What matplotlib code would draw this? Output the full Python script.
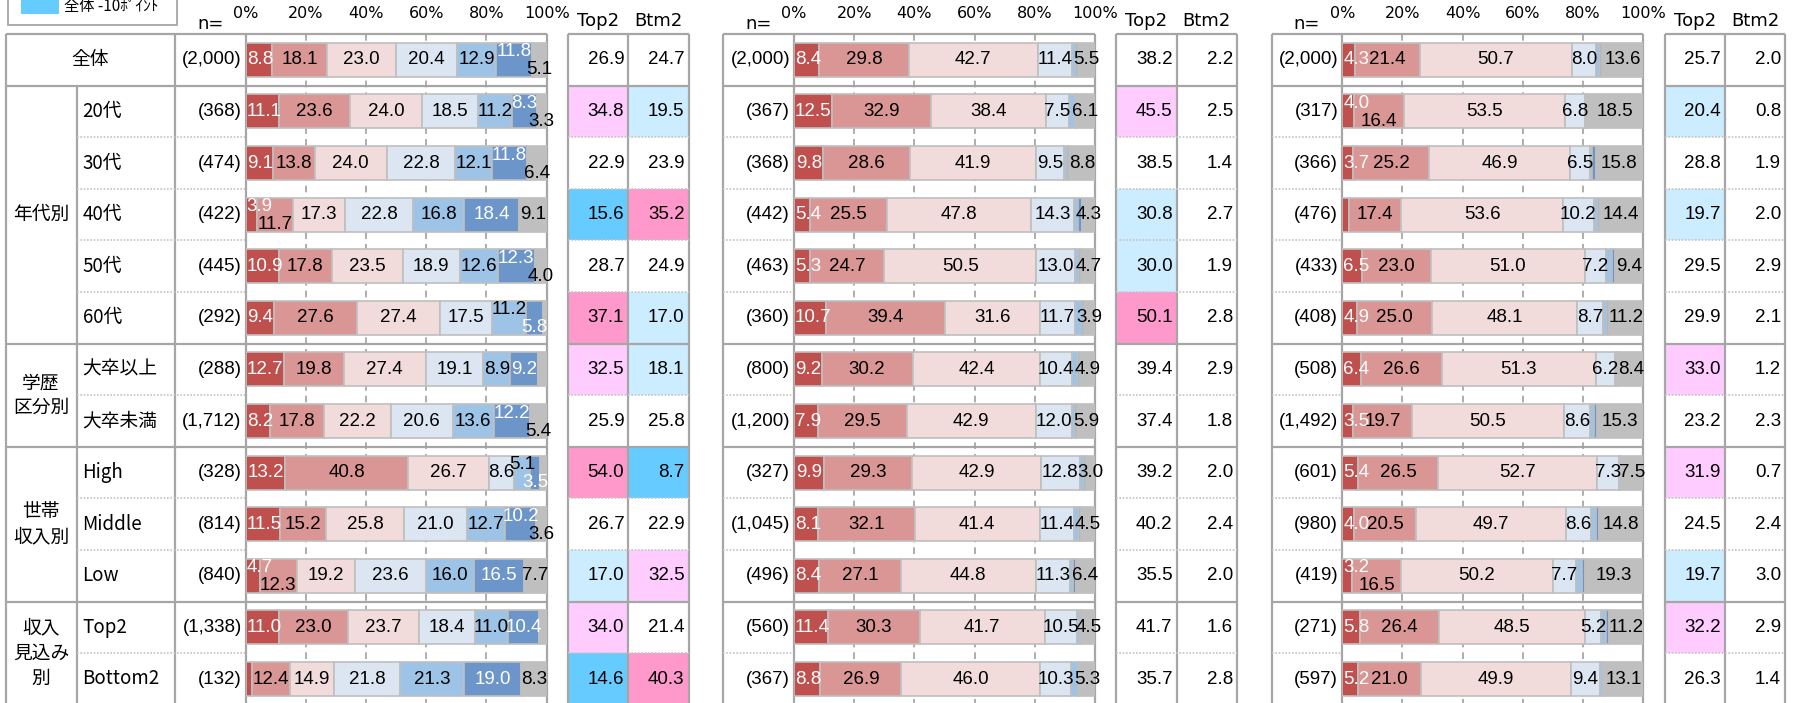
import matplotlib
matplotlib.use("Agg")
import matplotlib.pyplot as plt
from matplotlib.patches import Rectangle
import numpy as np

plt.rcParams['font.family'] = ['Liberation Sans', 'Noto Sans CJK JP', 'DejaVu Sans']

# ---------------- data ----------------
group_names = ["全体", "年代別", "学歴\n区分別", "世帯\n収入別", "収入\n見込み\n別"]
group_sizes = [1, 5, 2, 3, 2]
row_labels = ["全体", "20代", "30代", "40代", "50代", "60代", "大卒以上", "大卒未満",
              "High", "Middle", "Low", "Top2", "Bottom2"]
pct_ticks = [0, 20, 40, 60, 80, 100]
pct_labels = ["0%", "20%", "40%", "60%", "80%", "100%"]
legend_label = "全体 -10ﾎﾟｲﾝﾄ"

# panel 1
n_1 = ["(2,000)", "(368)", "(474)", "(422)", "(445)", "(292)", "(288)", "(1,712)",
       "(328)", "(814)", "(840)", "(1,338)", "(132)"]
vals_1 = [
    [8.8, 18.1, 23.0, 20.4, 12.9, 11.8, 5.1],
    [11.1, 23.6, 24.0, 18.5, 11.2, 8.3, 3.3],
    [9.1, 13.8, 24.0, 22.8, 12.1, 11.8, 6.4],
    [3.9, 11.7, 17.3, 22.8, 16.8, 18.4, 9.1],
    [10.9, 17.8, 23.5, 18.9, 12.6, 12.3, 4.0],
    [9.4, 27.6, 27.4, 17.5, 11.2, 5.8, 1.1],
    [12.7, 19.8, 27.4, 19.1, 8.9, 9.2, 2.9],
    [8.2, 17.8, 22.2, 20.6, 13.6, 12.2, 5.4],
    [13.2, 40.8, 26.7, 8.6, 5.1, 3.5, 2.1],
    [11.5, 15.2, 25.8, 21.0, 12.7, 10.2, 3.6],
    [4.7, 12.3, 19.2, 23.6, 16.0, 16.5, 7.7],
    [11.0, 23.0, 23.7, 18.4, 11.0, 10.4, 2.5],
    [2.2, 12.4, 14.9, 21.8, 21.3, 19.0, 8.3],
]
top2_1 = [26.9, 34.8, 22.9, 15.6, 28.7, 37.1, 32.5, 25.9, 54.0, 26.7, 17.0, 34.0, 14.6]
btm2_1 = [24.7, 19.5, 23.9, 35.2, 24.9, 17.0, 18.1, 25.8, 8.7, 22.9, 32.5, 21.4, 40.3]

# panel 2
n_2 = ["(2,000)", "(367)", "(368)", "(442)", "(463)", "(360)", "(800)", "(1,200)",
       "(327)", "(1,045)", "(496)", "(560)", "(367)"]
vals_2 = [
    [8.4, 29.8, 42.7, 11.4, 1.4, 0.8, 5.5],
    [12.5, 32.9, 38.4, 7.5, 2.0, 0.5, 6.1],
    [9.8, 28.6, 41.9, 9.5, 1.0, 0.4, 8.8],
    [5.4, 25.5, 47.8, 14.3, 1.5, 1.2, 4.3],
    [5.3, 24.7, 50.5, 13.0, 1.3, 0.6, 4.7],
    [10.7, 39.4, 31.6, 11.7, 2.2, 0.6, 3.9],
    [9.2, 30.2, 42.4, 10.4, 2.0, 0.9, 4.9],
    [7.9, 29.5, 42.9, 12.0, 1.2, 0.6, 5.9],
    [9.9, 29.3, 42.9, 12.8, 1.5, 0.5, 3.0],
    [8.1, 32.1, 41.4, 11.4, 1.8, 0.6, 4.5],
    [8.4, 27.1, 44.8, 11.3, 1.2, 0.8, 6.4],
    [11.4, 30.3, 41.7, 10.5, 1.0, 0.6, 4.5],
    [8.8, 26.9, 46.0, 10.3, 2.2, 0.6, 5.3],
]
top2_2 = [38.2, 45.5, 38.5, 30.8, 30.0, 50.1, 39.4, 37.4, 39.2, 40.2, 35.5, 41.7, 35.7]
btm2_2 = [2.2, 2.5, 1.4, 2.7, 1.9, 2.8, 2.9, 1.8, 2.0, 2.4, 2.0, 1.6, 2.8]

# panel 3
n_3 = ["(2,000)", "(317)", "(366)", "(476)", "(433)", "(408)", "(508)", "(1,492)",
       "(601)", "(980)", "(419)", "(271)", "(597)"]
vals_3 = [
    [4.3, 21.4, 50.7, 8.0, 1.4, 0.6, 13.6],
    [4.0, 16.4, 53.5, 6.8, 0.6, 0.2, 18.5],
    [3.7, 25.2, 46.9, 6.5, 0.8, 1.1, 15.8],
    [2.3, 17.4, 53.6, 10.2, 1.5, 0.5, 14.4],
    [6.5, 23.0, 51.0, 7.2, 1.8, 1.1, 9.4],
    [4.9, 25.0, 48.1, 8.7, 1.3, 0.8, 11.2],
    [6.4, 26.6, 51.3, 6.2, 0.8, 0.4, 8.4],
    [3.5, 19.7, 50.5, 8.6, 1.5, 0.8, 15.3],
    [5.4, 26.5, 52.7, 7.3, 0.5, 0.2, 7.5],
    [4.0, 20.5, 49.7, 8.6, 1.6, 0.8, 14.8],
    [3.2, 16.5, 50.2, 7.7, 2.2, 0.8, 19.3],
    [5.8, 26.4, 48.5, 5.2, 1.8, 1.1, 11.2],
    [5.2, 21.0, 49.9, 9.4, 1.0, 0.4, 13.1],
]
top2_3 = [25.7, 20.4, 28.8, 19.7, 29.5, 29.9, 33.0, 23.2, 31.9, 24.5, 19.7, 32.2, 26.3]
btm2_3 = [2.0, 0.8, 1.9, 2.0, 2.9, 2.1, 1.2, 2.3, 0.7, 2.4, 3.0, 2.9, 1.4]

panels = [(n_1, vals_1, top2_1, btm2_1), (n_2, vals_2, top2_2, btm2_2), (n_3, vals_3, top2_3, btm2_3)]

# label nudges (panel, row, segment): +1 raise, -1 lower  (style only)
nudge = {}
for (r, a, b) in [(0, 5, 6), (1, 5, 6), (2, 5, 6), (3, 0, 1), (4, 5, 6), (5, 4, 5),
                  (7, 5, 6), (8, 4, 5), (9, 5, 6), (10, 0, 1)]:
    nudge[(0, r, a)] = 1
    nudge[(0, r, b)] = -1
for (r, a, b) in [(1, 0, 1), (10, 0, 1)]:
    nudge[(2, r, a)] = 1
    nudge[(2, r, b)] = -1

# ---------------- style / layout ----------------
W, H = 1798, 703
TOP = 34.0
PITCH = 51.6
BAR_X0 = [245.7, 794.0, 1342.2]
BAR_W = 301.0
N_W = 70.7
T2_OFF = 322.3
CELL_W = 60.3
LINE = '#A6A6A6'
DOT = '#C4C4C4'
seg_colors = ['#C0504D', '#D99694', '#F2DCDB', '#DCE6F2', '#9DC3E6', '#6C95C9', '#BFBFBF']
seg_text = ['white', 'black', 'black', 'black', 'black', 'white', 'black']
VAL_FS = 13.5
LBL_FS = 13.5
UP_PX, DOWN_PX = 8, -10


def hl_color(v, base):
    d = v - base
    if d >= 10:
        return '#FF99CC'
    if d >= 5:
        return '#FFCCFF'
    if d <= -10:
        return '#66CCFF'
    if d <= -5:
        return '#CCECFF'
    return 'white'


fig = plt.figure(figsize=(W / 100, H / 100), dpi=100)
bg = fig.add_axes([0, 0, 1, 1])
bg.set_xlim(0, W)
bg.set_ylim(H, 0)
bg.axis('off')

NROW = len(row_labels)
BOTTOM = TOP + NROW * PITCH + 5
bounds = list(np.cumsum(group_sizes))[:-1]


def ry(k):
    return TOP + PITCH * k


def vline(x, y0, y1):
    bg.plot([x, x], [y0, y1], color=LINE, lw=1.6, solid_capstyle='butt', zorder=3)


def hline(x0, x1, y, dotted=False):
    if dotted:
        bg.plot([x0, x1], [y, y], color=DOT, lw=1.2, ls=(0, (1, 1)), zorder=3)
    else:
        bg.plot([x0, x1], [y, y], color=LINE, lw=1.6, solid_capstyle='butt', zorder=3)


# legend box
bg.add_patch(Rectangle((8, -20), 169, 45, facecolor='white', edgecolor=LINE, lw=1.3, zorder=2))
bg.add_patch(Rectangle((21, -5), 38, 19, facecolor='#66CCFF', edgecolor='none', zorder=3))
bg.text(64, 6.5, legend_label, fontsize=11, family=['Noto Sans CJK JP'], va='center', ha='left', zorder=4)

# panel 1 left table
GX0, GX1, LX1 = 5.7, 76.5, 175.0
b0 = BAR_X0[0]
vline(GX0, TOP, BOTTOM)
vline(GX1, ry(1), BOTTOM)
vline(LX1, TOP, BOTTOM)
hline(GX0, b0 + BAR_W, TOP)
for k in bounds:
    hline(GX0, b0 + BAR_W, ry(k))
for k in range(1, NROW + 1):
    if k not in bounds:
        hline(GX1, b0, ry(k), dotted=True)

start = 0
for g, size in zip(group_names, group_sizes):
    yc = (ry(start) + ry(start + size)) / 2
    if size == 1:
        bg.text((GX0 + LX1) / 2, yc, g, ha='center', va='center', fontsize=LBL_FS,
                family=['Noto Sans CJK JP'], zorder=4)
    else:
        bg.text((GX0 + GX1) / 2, yc, g, ha='center', va='center', fontsize=LBL_FS,
                family=['Noto Sans CJK JP'], linespacing=1.25, zorder=4)
    start += size
for i in range(1, NROW):
    bg.text(GX1 + 6, ry(i) + PITCH / 2, row_labels[i], ha='left', va='center',
            fontsize=LBL_FS, family=['Noto Sans CJK JP'], zorder=4)

bar_annots = []
for p, (nlist, vals, t2, b2) in enumerate(panels):
    x0 = BAR_X0[p]
    nx0 = x0 - N_W
    if p > 0:
        vline(nx0, TOP, BOTTOM)
        hline(nx0, x0 + BAR_W, TOP)
        for k in bounds:
            hline(nx0, x0 + BAR_W, ry(k))
        for k in range(1, NROW + 1):
            if k not in bounds:
                hline(nx0, x0, ry(k), dotted=True)
    vline(x0, TOP, BOTTOM)
    vline(x0 + BAR_W, TOP, BOTTOM)
    bg.text(nx0 + N_W / 2, 24, "n=", ha='center', va='center', fontsize=13,
            family=['DejaVu Sans'], zorder=4)
    for i in range(NROW):
        bg.text(x0 - 4, ry(i) + PITCH / 2, nlist[i], ha='right', va='center',
                fontsize=VAL_FS, zorder=4)

    # Top2 / Btm2 table
    tx = x0 + T2_OFF
    for c, (colvals, head) in enumerate([(t2, "Top2"), (b2, "Btm2")]):
        cx0 = tx + c * CELL_W
        for i in range(NROW):
            fc = 'white' if i == 0 else hl_color(colvals[i], colvals[0])
            bg.add_patch(Rectangle((cx0, ry(i)), CELL_W, PITCH, facecolor=fc,
                                   edgecolor='none', zorder=1))
            bg.text(cx0 + CELL_W - 4, ry(i) + PITCH / 2, f"{colvals[i]:.1f}",
                    ha='right', va='center', fontsize=VAL_FS, zorder=4)
        bg.text(cx0 + CELL_W / 2, 21, head, ha='center', va='center', fontsize=13,
                family=['DejaVu Sans'], zorder=4)
    for c in range(3):
        vline(tx + c * CELL_W, TOP, BOTTOM)
    hline(tx, tx + 2 * CELL_W, TOP)
    for k in bounds:
        hline(tx, tx + 2 * CELL_W, ry(k))
    for k in range(1, NROW + 1):
        if k not in bounds:
            hline(tx, tx + 2 * CELL_W, ry(k), dotted=True)

    # bars
    ax = fig.add_axes([x0 / W, 1 - (TOP + NROW * PITCH) / H, BAR_W / W, NROW * PITCH / H])
    ax.set_xlim(0, 100)
    ax.set_ylim(NROW, 0)
    ax.patch.set_alpha(0)
    arr = np.array(vals)
    y = np.arange(NROW) + 0.5
    left = np.zeros(NROW)
    ax.vlines(pct_ticks[1:-1], 0, NROW, colors='#A0A0A0', linestyles=(0, (4, 3)),
              lw=1.2, zorder=1)
    for s in range(arr.shape[1]):
        ax.barh(y, arr[:, s], left=left, height=0.66, color=seg_colors[s],
                edgecolor='#BFBFBF', linewidth=1.2, zorder=2)
        for i in range(NROW):
            v = arr[i, s]
            if v >= 3.0:
                d = nudge.get((p, i, s), 0)
                dy = UP_PX if d > 0 else (DOWN_PX if d < 0 else 0)
                an = ax.annotate(f"{v:.1f}", (left[i] + v / 2, y[i]), xytext=(0, dy),
                                 textcoords='offset pixels', ha='center', va='center',
                                 color=seg_text[s], fontsize=VAL_FS, zorder=5,
                                 annotation_clip=False)
                bar_annots.append((ax, an, dy))
        left += arr[:, s]
    ax.set_xticks(pct_ticks)
    ax.set_xticklabels(pct_labels, fontfamily='DejaVu Sans')
    ax.xaxis.set_ticks_position('top')
    ax.tick_params(axis='x', length=0, pad=9, labelsize=11.5)
    ax.set_yticks([])
    for sp in ax.spines.values():
        sp.set_visible(False)

# keep labels from spilling past the left edge of the plot area
fig.canvas.draw()
renderer = fig.canvas.get_renderer()
for ax, an, dy in bar_annots:
    bb = an.get_window_extent(renderer)
    axbb = ax.get_window_extent(renderer)
    if bb.x0 < axbb.x0 + 1:
        an.xyann = (axbb.x0 + 1 - bb.x0, dy)

fig.savefig("out.png", dpi=100)
